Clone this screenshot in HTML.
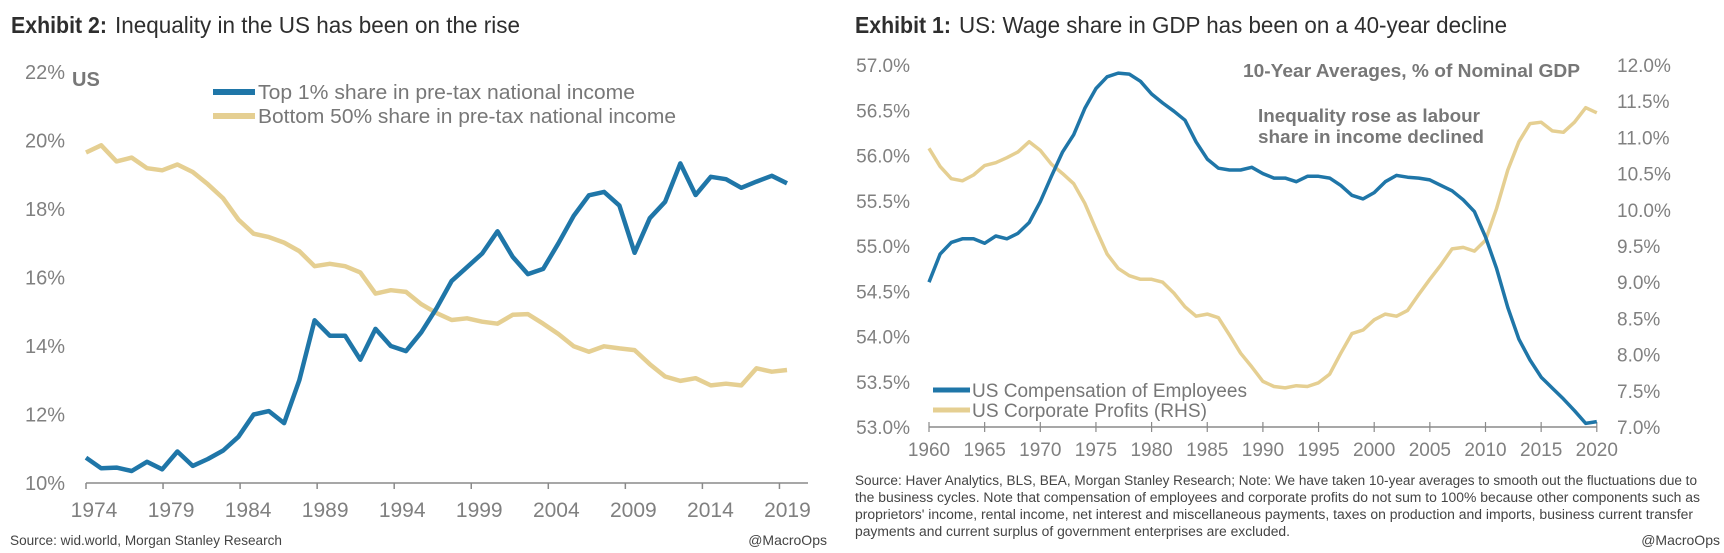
<!DOCTYPE html>
<html><head><meta charset="utf-8">
<style>
html,body{margin:0;padding:0;background:#fff;}
svg{display:block;font-family:"Liberation Sans",sans-serif;}
</style></head>
<body>
<svg id="root" width="1724" height="553" viewBox="0 0 1724 553">
  <rect x="0" y="0" width="1724" height="553" fill="#fff"/>
  <!-- Left chart static text -->
  <text x="11" y="33" font-size="23" fill="#2e2e2e"><tspan font-weight="bold" textLength="96" lengthAdjust="spacingAndGlyphs">Exhibit 2:</tspan><tspan dx="8" textLength="405" lengthAdjust="spacingAndGlyphs">Inequality in the US has been on the rise</tspan></text>
  <text x="72" y="86" font-size="20" font-weight="bold" fill="#777">US</text>
  <line x1="213" y1="92" x2="255" y2="92" stroke="#1f76a8" stroke-width="6"/>
  <text x="258" y="99" font-size="20" fill="#777" textLength="377" lengthAdjust="spacingAndGlyphs">Top 1% share in pre-tax national income</text>
  <line x1="213" y1="116" x2="255" y2="116" stroke="#e5cf92" stroke-width="6"/>
  <text x="258" y="123" font-size="20" fill="#777" textLength="418" lengthAdjust="spacingAndGlyphs">Bottom 50% share in pre-tax national income</text>
  <text x="10" y="545" font-size="14" fill="#444" textLength="272" lengthAdjust="spacingAndGlyphs">Source: wid.world, Morgan Stanley Research</text>
  <text x="827" y="545" font-size="14" fill="#444" text-anchor="end">@MacroOps</text>
  <g id="leftAxes"></g>
  <g id="leftMarks"></g>

  <!-- Right chart static text -->
  <text x="855" y="33" font-size="23" fill="#2e2e2e"><tspan font-weight="bold" textLength="96" lengthAdjust="spacingAndGlyphs">Exhibit 1:</tspan><tspan dx="8" textLength="548" lengthAdjust="spacingAndGlyphs">US: Wage share in GDP has been on a 40-year decline</tspan></text>
  <text x="1243" y="77" font-size="18" font-weight="bold" fill="#777" textLength="337" lengthAdjust="spacingAndGlyphs">10-Year Averages, % of Nominal GDP</text>
  <text x="1258" y="122" font-size="18" font-weight="bold" fill="#777" textLength="222" lengthAdjust="spacingAndGlyphs">Inequality rose as labour</text>
  <text x="1258" y="143" font-size="18" font-weight="bold" fill="#777" textLength="226" lengthAdjust="spacingAndGlyphs">share in income declined</text>
  <line x1="933" y1="390" x2="970" y2="390" stroke="#1f76a8" stroke-width="5"/>
  <text x="972" y="397" font-size="19" fill="#777" textLength="275" lengthAdjust="spacingAndGlyphs">US Compensation of Employees</text>
  <line x1="933" y1="410" x2="970" y2="410" stroke="#e5cf92" stroke-width="5"/>
  <text x="972" y="417" font-size="19" fill="#777" textLength="235" lengthAdjust="spacingAndGlyphs">US Corporate Profits (RHS)</text>
  <g font-size="13.5" fill="#444">
    <text x="855" y="485" textLength="842" lengthAdjust="spacingAndGlyphs">Source: Haver Analytics, BLS, BEA, Morgan Stanley Research; Note: We have taken 10-year averages to smooth out the fluctuations due to</text>
    <text x="855" y="502" textLength="845" lengthAdjust="spacingAndGlyphs">the business cycles. Note that compensation of employees and corporate profits do not sum to 100% because other components such as</text>
    <text x="855" y="519" textLength="838" lengthAdjust="spacingAndGlyphs">proprietors' income, rental income, net interest and miscellaneous payments, taxes on production and imports, business current transfer</text>
    <text x="855" y="536" textLength="435" lengthAdjust="spacingAndGlyphs">payments and current surplus of government enterprises are excluded.</text>
  </g>
  <text x="1720" y="545" font-size="14" fill="#444" text-anchor="end">@MacroOps</text>
  <g id="rightAxes"></g>
  <g id="rightMarks"></g>
</svg>
<script>
// ---- Left chart data ----
var leftYears = [1974,1975,1976,1977,1978,1979,1980,1981,1982,1983,1984,1985,1986,1987,1988,1989,1990,1991,1992,1993,1994,1995,1996,1997,1998,1999,2000,2001,2002,2003,2004,2005,2006,2007,2008,2009,2010,2011,2012,2013,2014,2015,2016,2017,2018,2019,2020];
var top1Share = [10.74,10.43,10.45,10.35,10.62,10.4,10.92,10.5,10.7,10.95,11.35,12.0,12.1,11.75,13.0,14.75,14.3,14.3,13.6,14.5,14.0,13.85,14.4,15.1,15.9,16.3,16.7,17.35,16.6,16.1,16.25,17.0,17.8,18.4,18.5,18.1,16.72,17.73,18.21,19.33,18.41,18.94,18.87,18.62,18.8,18.97,18.75];
var bottom50Share = [19.65,19.86,19.39,19.5,19.19,19.13,19.3,19.08,18.72,18.31,17.69,17.28,17.18,17.02,16.77,16.33,16.4,16.33,16.15,15.53,15.63,15.58,15.22,14.96,14.76,14.81,14.71,14.65,14.91,14.93,14.65,14.35,13.99,13.83,13.99,13.93,13.88,13.47,13.11,12.98,13.06,12.85,12.9,12.85,13.35,13.25,13.3];
var leftYTicks = [10,12,14,16,18,20,22];
var leftXTicks = ["1974","1979","1984","1989","1994","1999","2004","2009","2014","2019"];

// ---- Right chart data ----
var rightYears = [];
for (var yy = 1960; yy <= 2020; yy++) rightYears.push(yy);
var compensation = [54.6,54.91,55.04,55.08,55.08,55.03,55.11,55.08,55.14,55.26,55.49,55.77,56.04,56.23,56.52,56.74,56.87,56.91,56.9,56.82,56.68,56.58,56.49,56.39,56.15,55.96,55.86,55.84,55.84,55.87,55.8,55.75,55.75,55.71,55.77,55.77,55.75,55.67,55.56,55.52,55.59,55.71,55.78,55.76,55.75,55.73,55.67,55.61,55.51,55.38,55.1,54.75,54.32,53.97,53.74,53.55,53.43,53.31,53.18,53.04,53.06];
var profits = [10.85,10.6,10.43,10.4,10.48,10.61,10.65,10.72,10.8,10.94,10.82,10.63,10.5,10.36,10.09,9.73,9.39,9.19,9.09,9.04,9.04,9.0,8.85,8.66,8.53,8.56,8.51,8.27,8.02,7.83,7.63,7.56,7.54,7.57,7.56,7.61,7.73,8.02,8.29,8.34,8.48,8.56,8.53,8.61,8.83,9.04,9.24,9.46,9.48,9.43,9.58,10.02,10.55,10.94,11.19,11.21,11.09,11.07,11.21,11.41,11.34];
var rightLeftTicks = [53.0,53.5,54.0,54.5,55.0,55.5,56.0,56.5,57.0];
var rightRightTicks = [7.0,7.5,8.0,8.5,9.0,9.5,10.0,10.5,11.0,11.5,12.0];
var rightXTicks = [1960,1965,1970,1975,1980,1985,1990,1995,2000,2005,2010,2015,2020];

var NS = "http://www.w3.org/2000/svg";
function mk(tag, attrs, parent) {
  var e = document.createElementNS(NS, tag);
  for (var k in attrs) e.setAttribute(k, attrs[k]);
  parent.appendChild(e);
  return e;
}

// ---- Left scales ----
function lx(i) { return 86 + i * (701 / (leftYears.length - 1)); }
function ly(v) { return 483 - (v - 10) * 34.25; }
function lTickX(k) { return 86 + k * 77.05; }

var la = document.getElementById("leftAxes");
var axL = mk("line", {x1: 86, y1: 483, x2: 808, y2: 483, stroke: "#8a8a8a", "stroke-width": 1.5}, la);


leftXTicks.forEach(function (t, k) {
  var tk = mk("line", {x1: lTickX(k), y1: 483, x2: lTickX(k), y2: 489, stroke: "#8a8a8a", "stroke-width": 1.5}, la);
  
  
  var tl = mk("text", {x: lTickX(k) + 8, y: 517, "font-size": 21, fill: "#808080", "text-anchor": "middle"}, la);
  tl.textContent = t;
  
  
});
leftYTicks.forEach(function (v) {
  var tl = mk("text", {x: 65, y: ly(v) + 7, "font-size": 20, fill: "#808080", "text-anchor": "end"}, la);
  tl.textContent = v + "%";
  
  
});

var lm = document.getElementById("leftMarks");
function pathFrom(vals, fx, fy) {
  return vals.map(function (v, i) { return (i ? "L" : "M") + fx(i).toFixed(1) + "," + fy(v).toFixed(1); }).join("");
}
var pB = mk("path", {d: pathFrom(bottom50Share, lx, ly), fill: "none", stroke: "#e5cf92", "stroke-width": 4.5, "stroke-linejoin": "round"}, lm);


var pT = mk("path", {d: pathFrom(top1Share, lx, ly), fill: "none", stroke: "#1f76a8", "stroke-width": 4.5, "stroke-linejoin": "round"}, lm);



// ---- Right scales ----
function rx(i) { return 929 + (rightYears[i] - 1960) * 11.13; }
function ryL(v) { return 427 - (v - 53) * 90.5; }
function ryR(v) { return 427 - (v - 7) * 72.4; }

var ra = document.getElementById("rightAxes");
var axR = mk("line", {x1: 929, y1: 427, x2: 1597, y2: 427, stroke: "#8a8a8a", "stroke-width": 1.5}, ra);


rightXTicks.forEach(function (t) {
  var x = 929 + (t - 1960) * 11.13;
  var tk = mk("line", {x1: x, y1: 422, x2: x, y2: 432, stroke: "#8a8a8a", "stroke-width": 1.2}, ra);
  
  
  var tl = mk("text", {x: x, y: 456, "font-size": 19, fill: "#808080", "text-anchor": "middle"}, ra);
  tl.textContent = String(t);
  
  
});
rightLeftTicks.forEach(function (v) {
  var tl = mk("text", {x: 910, y: ryL(v) + 7, "font-size": 19, fill: "#808080", "text-anchor": "end"}, ra);
  tl.textContent = v.toFixed(1) + "%";
  
  
});
rightRightTicks.forEach(function (v) {
  var tl = mk("text", {x: 1617, y: ryR(v) + 7, "font-size": 19, fill: "#808080"}, ra);
  tl.textContent = v.toFixed(1) + "%";
  
  
});

var rm = document.getElementById("rightMarks");
var pP = mk("path", {d: pathFrom(profits, rx, ryR), fill: "none", stroke: "#e5cf92", "stroke-width": 3.5, "stroke-linejoin": "round"}, rm);


var pC = mk("path", {d: pathFrom(compensation, rx, ryL), fill: "none", stroke: "#1f76a8", "stroke-width": 3.5, "stroke-linejoin": "round"}, rm);


</script>
</body></html>
